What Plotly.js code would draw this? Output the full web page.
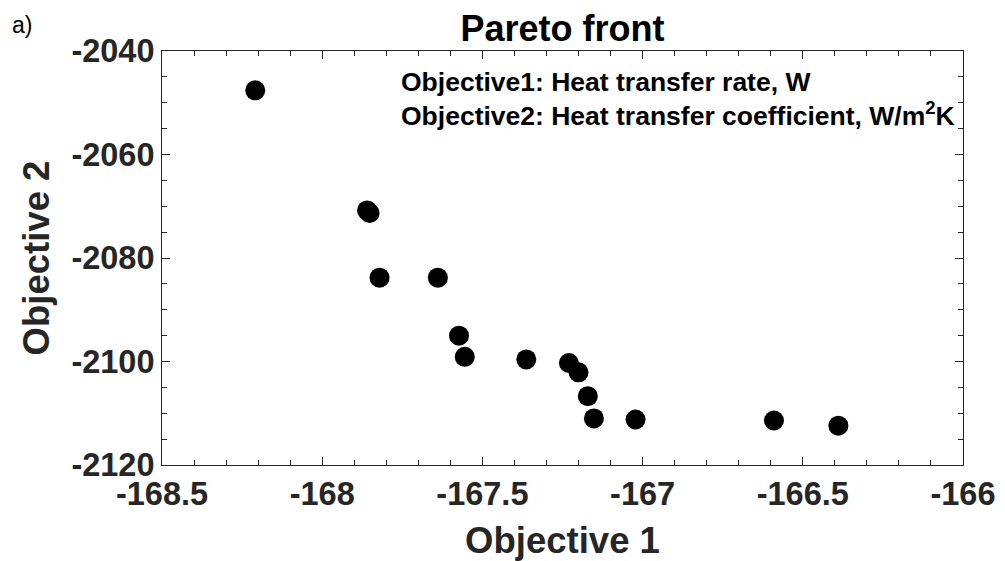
<!DOCTYPE html>
<html>
<head>
<meta charset="utf-8">
<script src="https://cdn.plot.ly/plotly-3.0.1.min.js"></script>
<style>html,body{margin:0;padding:0;background:#fff;}#chart{width:1005px;height:561px;}</style>
</head>
<body>
<div id="chart"></div>
<script>
const objective1 = [-168.209, -167.860, -167.852, -167.821, -167.639, -167.573, -167.555, -167.363, -167.230, -167.200, -167.171, -167.152, -167.022, -166.590, -166.389];
const objective2 = [-2047.6, -2070.8, -2071.3, -2083.8, -2083.8, -2095.0, -2099.1, -2099.6, -2100.3, -2102.1, -2106.7, -2111.0, -2111.2, -2111.4, -2112.4];
const xTicks = [-168.5, -168, -167.5, -167, -166.5, -166];
const xTickText = ['-168.5', '-168', '-167.5', '-167', '-166.5', '-166'];
const yTicks = [-2120, -2100, -2080, -2060, -2040];
const yTickText = ['-2120', '-2100', '-2080', '-2060', '-2040'];

const FAM = 'Arial, Liberation Sans, sans-serif';
const axisColor = '#262626';
const tickFont = {family: FAM, size: 32.5, color: axisColor, weight: 'bold'};
const titleFont = {family: FAM, size: 36.5, color: axisColor, weight: 'bold'};

const trace = {
  x: objective1, y: objective2, type: 'scatter', mode: 'markers',
  marker: {color: '#000', size: 20},
  hoverinfo: 'skip', showlegend: false
};

const layout = {
  width: 1005, height: 561,
  paper_bgcolor: '#fff', plot_bgcolor: '#fff',
  margin: {l: 162, r: 42, t: 51, b: 96},
  title: {text: '<b>Pareto front</b>', font: {family: FAM, size: 36, color: '#000'},
          xref: 'paper', x: 0.5, xanchor: 'center', yref: 'container', y: 0.95, yanchor: 'middle'},
  xaxis: {
    range: [-168.5, -166], tickvals: xTicks, ticktext: xTickText,
    ticks: 'inside', ticklen: 8, tickcolor: axisColor, tickwidth: 1,
    showline: true, linecolor: axisColor, linewidth: 1, mirror: 'allticks',
    showgrid: false, zeroline: false, tickfont: tickFont,
    minor: {dtick: 0.1, ticks: 'inside', ticklen: 5, tickcolor: axisColor, showgrid: false},
    title: {text: '<b>Objective 1</b>', font: titleFont, standoff: 16}
  },
  yaxis: {
    range: [-2120, -2040], tickvals: yTicks, ticktext: yTickText,
    ticks: 'inside', ticklen: 8, tickcolor: axisColor, tickwidth: 1,
    showline: true, linecolor: axisColor, linewidth: 1, mirror: 'allticks',
    showgrid: false, zeroline: false, tickfont: tickFont,
    minor: {dtick: 5, ticks: 'inside', ticklen: 5, tickcolor: axisColor, showgrid: false},
    title: {text: '<b>Objective 2</b>', font: titleFont, standoff: 10}
  },
  annotations: [
    {text: 'a)', xref: 'paper', yref: 'paper', x: -0.19, y: 1.1, xanchor: 'left', yanchor: 'top', showarrow: false,
     font: {family: FAM, size: 23, color: '#000'}},
    {text: '<b>Objective1: Heat transfer rate, W</b><br><b>Objective2: Heat transfer coefficient, W/m<sup>2</sup>K</b>',
     xref: 'paper', yref: 'paper', x: 0.296, y: 0.965, xanchor: 'left', yanchor: 'top', align: 'left', showarrow: false,
     font: {family: FAM, size: 26.5, color: '#000'}}
  ]
};

Plotly.newPlot('chart', [trace], layout, {displayModeBar: false, staticPlot: true});
</script>
</body>
</html>
